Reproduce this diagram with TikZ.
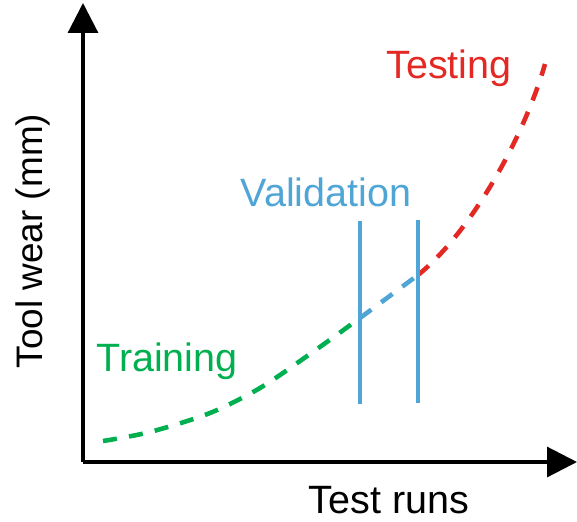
\documentclass[tikz,border=0pt]{standalone}
\usepackage{fontspec}
\setmainfont{Liberation Sans}
\usetikzlibrary{arrows.meta}
\definecolor{traingreen}{RGB}{0,176,80}
\definecolor{valblue}{RGB}{80,165,215}
\definecolor{testred}{RGB}{228,40,36}

\begin{document}
\begin{tikzpicture}[x=0.02cm, y=-0.02cm,
    axis/.style={line width=1.8pt, -{Triangle[width=17pt,length=17pt]}},
    wear/.style={line width=2.6pt, dash pattern=on 8pt off 7pt},
    split/.style={valblue, line width=2pt},
    lbl/.style={font=\fontsize{22.5}{27}\selectfont, anchor=base, inner sep=0pt}]
    \useasboundingbox (0,0) rectangle (577,521);
    % axes
    \coordinate (o) at (83,462);
    \coordinate (ytip) at (83,3);
    \coordinate (xtip) at (577,462);
    \draw[axis] (o) -- (ytip);
    \draw[axis] (o) -- (xtip);
    % wear curve, one piece per set
    \coordinate (c0) at (103,441);
    \coordinate (c1) at (360,318);
    \coordinate (c2) at (418,275);
    \coordinate (c3) at (545,64);
    \draw[wear, traingreen] plot[smooth] coordinates {(c0) (150,432) (210,413) (260,388) (310,354) (c1)};
    \draw[wear, valblue] (c1) -- (c2);
    \draw[wear, testred] (c2) .. controls (470,233) and (523,140) .. (c3);
    % validation window
    \coordinate (v1b) at (360,404);
    \coordinate (v1t) at (360,221);
    \coordinate (v2b) at (418,403);
    \coordinate (v2t) at (418,220);
    \draw[split] (v1b) -- (v1t);
    \draw[split] (v2b) -- (v2t);
    % labels
    \node[lbl, testred] (testing) at (449,78) {Testing};
    \node[lbl, valblue] (validation) at (326,206) {Validation};
    \node[lbl, traingreen] (training) at (167,371) {Training};
    \node[lbl] (xlabel) at (389,513) {Test runs};
    \node[lbl, rotate=90, font=\fontsize{21}{25}\selectfont] (ylabel) at (42,241) {Tool wear (mm)};
\end{tikzpicture}
\end{document}
